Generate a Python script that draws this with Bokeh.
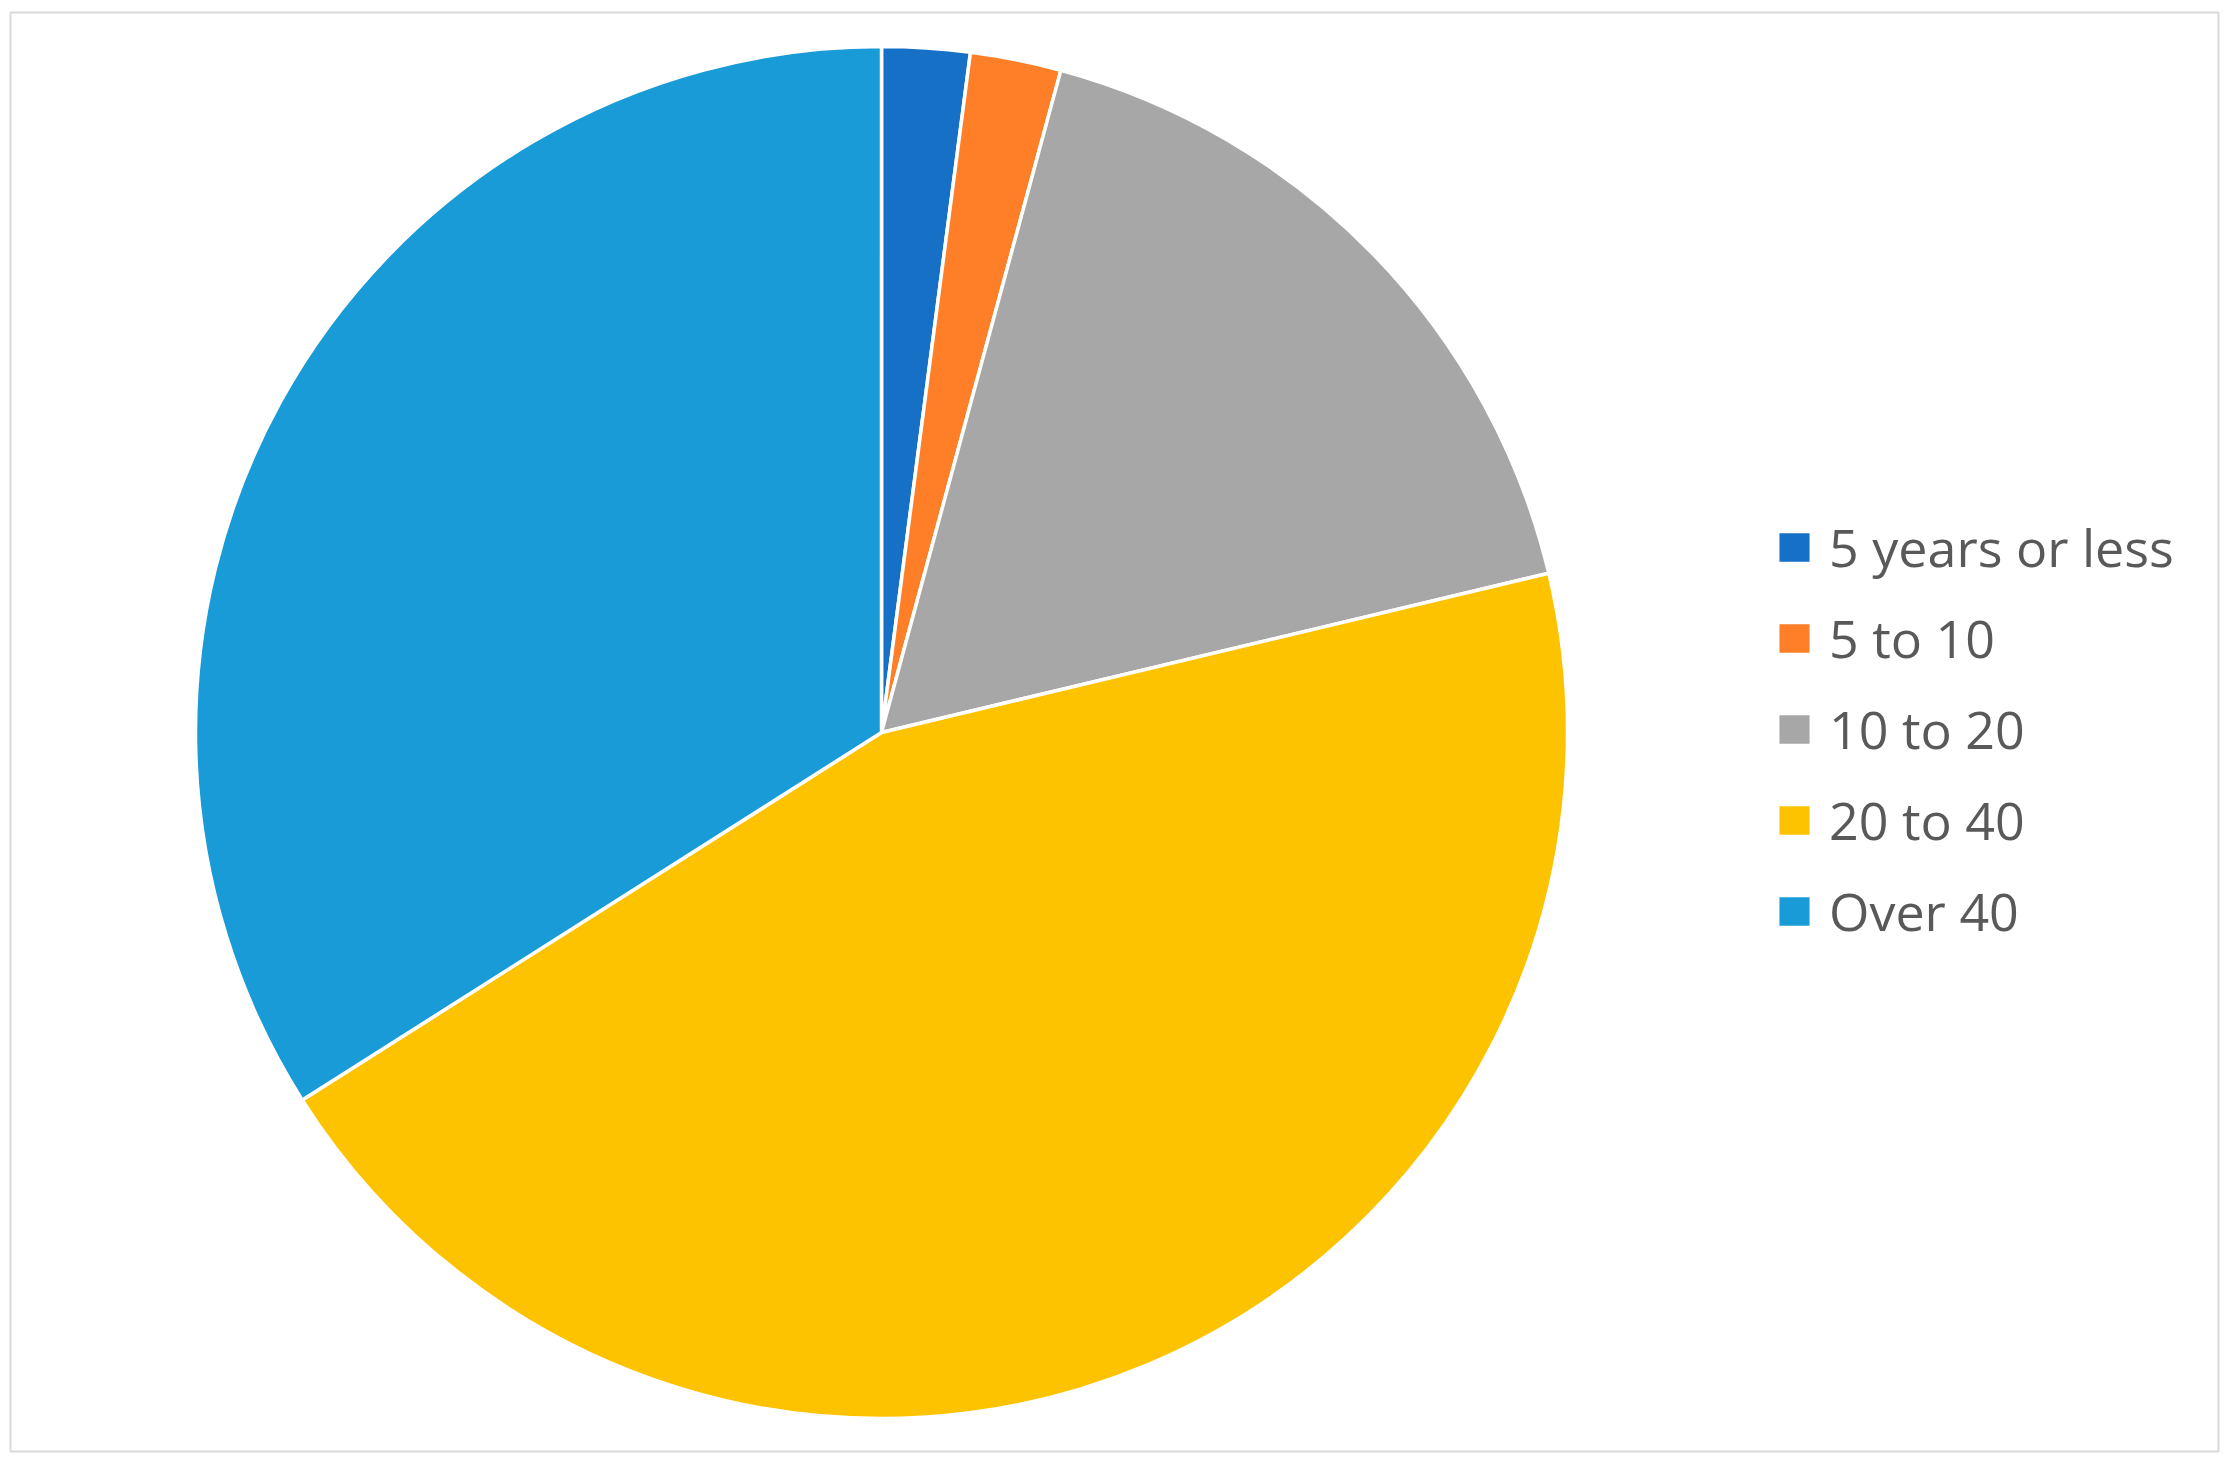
import math
from bokeh.plotting import figure
from bokeh.models import Range1d, ColumnDataSource, Legend, LegendItem
from bokeh.embed import file_html
from bokeh.resources import INLINE

categories = ["5 years or less", "5 to 10", "10 to 20", "20 to 40", "Over 40"]
values = [2.07, 2.14, 17.06, 44.73, 34.0]
colors = ["#1570c6", "#fe7f27", "#a7a7a7", "#fec300", "#199bd7"]

total = sum(values)
cum = [0.0]
for v in values:
    cum.append(cum[-1] + v / total)
start = [math.pi / 2 - 2 * math.pi * cum[i] for i in range(len(values))]
end = [math.pi / 2 - 2 * math.pi * cum[i + 1] for i in range(len(values))]

src = ColumnDataSource(dict(cat=categories, val=values, start=start, end=end, color=colors,
                            x=[871] * len(values), y=[719] * len(values)))

FW, FH = 2208, 1439
p = figure(width=2221, height=1457, output_backend="svg", toolbar_location=None,
           x_range=Range1d(0, FW), y_range=Range1d(0, FH),
           min_border_left=10, min_border_top=12, min_border_right=3, min_border_bottom=6)
p.axis.visible = False
p.grid.visible = False
p.outline_line_color = "#d9d9d9"
p.outline_line_width = 2
p.background_fill_color = "white"
p.border_fill_color = "white"

r = p.wedge(x="x", y="y", radius=686, radius_units="data", start_angle="start", end_angle="end",
            direction="clock", fill_color="color", line_color="white", line_width=3.5, source=src)

items = [LegendItem(label=c, renderers=[r], index=i) for i, c in enumerate(categories)]
legend = Legend(items=items, location=(1763, 505), orientation="vertical",
                label_text_font="Open Sans", label_text_font_size="52px", label_text_color="#595959",
                glyph_width=42, glyph_height=40, label_height=71, spacing=20, label_standoff=14,
                padding=0, margin=0, border_line_color=None, background_fill_alpha=0)
p.add_layout(legend, "center")

open("out.html", "w").write(file_html(p, INLINE))
